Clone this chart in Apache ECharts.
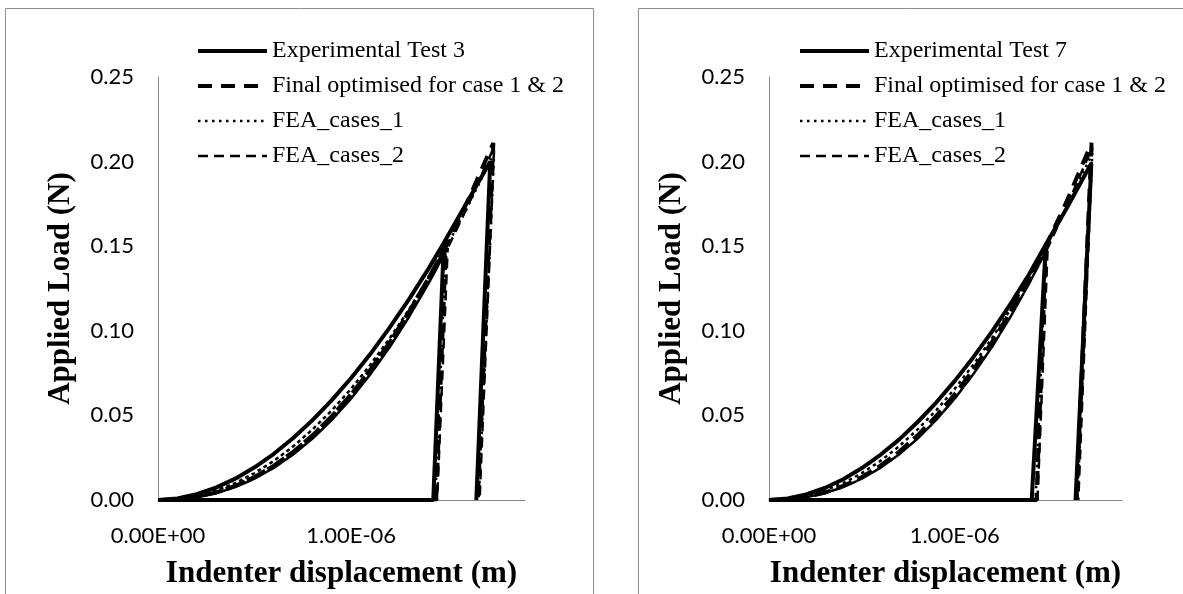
<!DOCTYPE html>
<html>
<head>
<meta charset="utf-8">
<script src="https://cdn.jsdelivr.net/npm/echarts@6/dist/echarts.min.js"></script>
<style>
html, body { margin: 0; padding: 0; background: #fff; }
#main { width: 1183px; height: 594px; }
</style>
</head>
<body>
<div id="main"></div>
<script>
// displacement in micrometres (labels are printed in metres), load in N
// loading curves: [displacement, load]
var test3Load = [[0, 0], [0.1, 0.0009], [0.2, 0.0034], [0.3, 0.0073], [0.4, 0.0126], [0.5, 0.0193],
    [0.6, 0.0273], [0.7, 0.0366], [0.8, 0.0472], [0.9, 0.059], [1.0, 0.0721], [1.1, 0.0864],
    [1.2, 0.102], [1.3, 0.1187], [1.4, 0.1366], [1.48, 0.152], [1.6, 0.176], [1.72, 0.2]];
var test7Load = [[0, 0], [0.1, 0.0009], [0.2, 0.0033], [0.3, 0.0071], [0.4, 0.0123], [0.5, 0.0189],
    [0.6, 0.0267], [0.7, 0.0357], [0.8, 0.0461], [0.9, 0.0576], [1.0, 0.0704], [1.1, 0.0844],
    [1.2, 0.0995], [1.3, 0.1159], [1.4, 0.1334], [1.49, 0.151], [1.6, 0.172], [1.735, 0.199]];
var optLoad = [[0, 0], [0.1, 0.0004], [0.2, 0.0018], [0.3, 0.0044], [0.4, 0.0083], [0.5, 0.0136],
    [0.6, 0.0203], [0.7, 0.0285], [0.8, 0.0382], [0.9, 0.0496], [1.0, 0.0625], [1.1, 0.0771],
    [1.2, 0.0933], [1.3, 0.1113], [1.4, 0.131], [1.49, 0.15], [1.6, 0.176], [1.736, 0.211]];
var fea1Load = [[0, 0], [0.1, 0.0006], [0.2, 0.0024], [0.3, 0.0056], [0.4, 0.01], [0.5, 0.0159],
    [0.6, 0.0231], [0.7, 0.0317], [0.8, 0.0417], [0.9, 0.053], [1.0, 0.0658], [1.1, 0.08],
    [1.2, 0.0956], [1.3, 0.1127], [1.4, 0.1313], [1.49, 0.149], [1.6, 0.1727], [1.74, 0.205]];
var fea2Load = [[0, 0], [0.1, 0.0003], [0.2, 0.0016], [0.3, 0.004], [0.4, 0.0076], [0.5, 0.0126],
    [0.6, 0.019], [0.7, 0.0269], [0.8, 0.0363], [0.9, 0.0473], [1.0, 0.06], [1.1, 0.0744],
    [1.2, 0.0904], [1.3, 0.1083], [1.4, 0.1279], [1.5, 0.149], [1.6, 0.1727], [1.74, 0.2086]];
// [first peak displacement, end of first unloading, end of second unloading]
var test3Cycle = [1.48, 1.425, 1.648];
var test7Cycle = [1.49, 1.414, 1.65];
var optCycle = [1.49, 1.44, 1.655];
var fea1Cycle = [1.49, 1.435, 1.66];
var fea2Cycle = [1.5, 1.445, 1.665];

var legendLeft = ['Experimental Test 3', 'Final optimised for case 1 & 2', 'FEA_cases_1', 'FEA_cases_2'];
var legendRight = ['Experimental Test 7', 'Final optimised for case 1 & 2', 'FEA_cases_1', 'FEA_cases_2'];

// two load/unload cycles, back to the origin in between
function cyclePath(load, cycle) {
    var first = load.filter(function (p) { return p[0] <= cycle[0]; });
    return first.concat([[cycle[1], 0], [0, 0]], load, [[cycle[2], 0]]);
}

function sci(v) {
    var parts = (v * 1e-6).toExponential(2).split('e');
    var e = parseInt(parts[1], 10);
    var a = Math.abs(e);
    return parts[0] + 'E' + (e < 0 ? '-' : '+') + (a < 10 ? '0' : '') + a;
}

var styles = [
    { color: '#000', width: 4, type: 'solid' },
    { color: '#000', width: 4, type: [14, 9] },
    { color: '#000', width: 2.5, type: [2.5, 4.5] },
    { color: '#000', width: 2.5, type: [10, 6] }
];

function line(name, data, style, idx) {
    return {
        name: name,
        type: 'line',
        xAxisIndex: idx,
        yAxisIndex: idx,
        data: data,
        symbol: 'none',
        clip: false,
        color: '#000',
        lineStyle: style
    };
}

function xAxis(idx) {
    return {
        gridIndex: idx, type: 'value', min: 0, max: 1.9, interval: 1,
        axisLine: { show: true, onZero: false, lineStyle: { color: '#868686', width: 1 } },
        axisTick: { show: false },
        splitLine: { show: false },
        axisLabel: { margin: 25, fontFamily: 'Lato', fontSize: 22, color: '#000', showMaxLabel: false, formatter: sci },
        name: 'Indenter displacement (m)',
        nameLocation: 'middle',
        nameGap: 58,
        nameTextStyle: { fontFamily: 'Liberation Serif', fontWeight: 'bold', fontSize: 31, color: '#000' }
    };
}

function yAxis(idx) {
    return {
        gridIndex: idx, type: 'value', min: 0, max: 0.25, interval: 0.05,
        axisLine: { show: true, lineStyle: { color: '#868686', width: 1 } },
        axisTick: { show: false },
        splitLine: { show: false },
        axisLabel: { margin: 24, fontFamily: 'Lato', fontSize: 22, color: '#000',
            formatter: function (v) { return v.toFixed(2); } },
        name: 'Applied Load (N)',
        nameLocation: 'middle',
        nameGap: 82,
        nameRotate: 90,
        nameTextStyle: { fontFamily: 'Liberation Serif', fontWeight: 'bold', fontSize: 31, color: '#000' }
    };
}

function legend(left, names) {
    return {
        left: left, top: 39, orient: 'vertical', padding: 0,
        itemWidth: 69, itemHeight: 14, itemGap: 11,
        selectedMode: false,
        itemStyle: { opacity: 0 },
        textStyle: { fontFamily: 'Liberation Serif', fontSize: 24, color: '#000', lineHeight: 24 },
        data: names.map(function (n, i) {
            return { name: n, lineStyle: styles[i] };
        })
    };
}

var myChart = echarts.init(document.getElementById('main'));

var option = {
    backgroundColor: '#fff',
    animation: false,
    graphic: [
        { type: 'rect', silent: true, shape: { x: 5.5, y: 8.5, width: 588, height: 600 },
          style: { fill: 'none', stroke: '#8c8c8c', lineWidth: 1 } },
        { type: 'rect', silent: true, shape: { x: 638.5, y: 8.5, width: 560, height: 600 },
          style: { fill: 'none', stroke: '#8c8c8c', lineWidth: 1 } }
    ],
    legend: [legend(196, legendLeft), legend(798, legendRight)],
    grid: [
        { left: 158, top: 77, width: 367, height: 425 },
        { left: 769, top: 77, width: 353, height: 425 }
    ],
    xAxis: [xAxis(0), xAxis(1)],
    yAxis: [yAxis(0), yAxis(1)],
    series: [
        line(legendLeft[0], cyclePath(test3Load, test3Cycle), styles[0], 0),
        line(legendLeft[1], cyclePath(optLoad, optCycle), styles[1], 0),
        line(legendLeft[2], cyclePath(fea1Load, fea1Cycle), styles[2], 0),
        line(legendLeft[3], cyclePath(fea2Load, fea2Cycle), styles[3], 0),
        line(legendRight[0], cyclePath(test7Load, test7Cycle), styles[0], 1),
        line(legendRight[1], cyclePath(optLoad, optCycle), styles[1], 1),
        line(legendRight[2], cyclePath(fea1Load, fea1Cycle), styles[2], 1),
        line(legendRight[3], cyclePath(fea2Load, fea2Cycle), styles[3], 1)
    ]
};

myChart.setOption(option);
</script>
</body>
</html>
